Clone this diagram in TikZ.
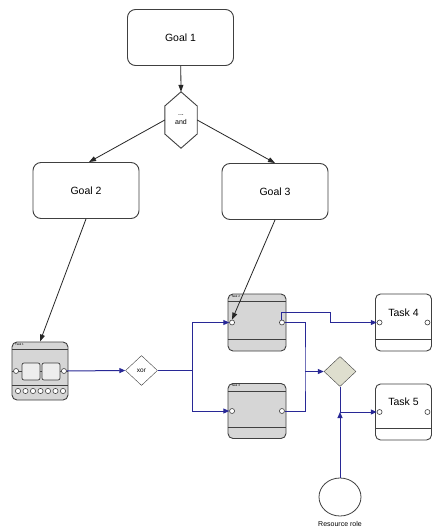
\documentclass[tikz,border=0pt]{standalone}
\usepackage{fontspec}
\setmainfont{Liberation Sans}
\usetikzlibrary{arrows.meta, shapes.geometric, calc, positioning}
\definecolor{FlowBlue}{RGB}{40,40,150}
\colorlet{TaskFill}{black!16}
\colorlet{BoxLine}{black!75}
\definecolor{JoinFill}{RGB}{222,222,206}

\tikzset{
  goal/.style={draw=BoxLine, line width=0.9pt, rounded corners=8pt,
    minimum width=106pt, minimum height=56pt, font=\fontsize{10.5}{12}\selectfont},
  taskbox/.style={draw=BoxLine, line width=0.9pt, rounded corners=5pt,
    minimum width=56pt, minimum height=57pt, inner sep=0pt},
  port/.style={draw=BoxLine, fill=white, circle, inner sep=0pt, minimum size=5pt, line width=0.6pt},
  gate/.style={draw=BoxLine, diamond, aspect=1, inner sep=0pt,
    minimum width=32pt, minimum height=30pt, font=\fontsize{6.5}{7}\selectfont},
  refine/.style={draw=black!85, line width=0.8pt, -{Triangle[length=7pt,width=5pt]}},
  flowline/.style={draw=FlowBlue, line width=1pt},
  flow/.style={flowline, -{Triangle[length=6pt,width=5pt]}},
}

\begin{document}
\begin{tikzpicture}[x=1pt, y=-1pt]

    \useasboundingbox[fill=white] (0,0) rectangle (432,528);

    \def\portInset{4.5}
    \def\baseLine{12}

    % Metas

    \node[goal] (goal1) at (180.5,37.5) {Goal 1};
    \node[goal] (goal2) at (86,190.5) {Goal 2};
    \node[goal] (goal3) at (275,191.5) {Goal 3};

    \node[minimum width=32pt, minimum height=56pt, inner sep=0pt, align=center,
      font=\fontsize{7}{9}\selectfont] (and) at (181,120) {...\\and};
    \draw[BoxLine, line width=0.9pt]
    (and.north) --
    ($(and.east)+(0,-14)$) --
    ($(and.east)+(0,14)$) --
    (and.south) --
    ($(and.west)+(0,14)$) --
    ($(and.west)+(0,-14)$) --
    cycle;

    \draw[refine] (goal1) -- (and.north);
    \draw[refine] (and.west) -- ($(goal2.north)+(3,0)$);
    \draw[refine] (and.east) -- (goal3.north);

    % Tareas

    \node[taskbox, fill=TaskFill, minimum height=58pt] (t1) at (40,371) {};
    \node[taskbox, fill=TaskFill, minimum width=58pt] (t2) at (257,322.5) {};
    \node[taskbox, fill=TaskFill, minimum width=58pt, minimum height=55pt] (t3) at (257,411) {};
    \node[taskbox] (t4) at (403.5,322.5) {};
    \node[taskbox, minimum height=56pt] (t5) at (403.5,412) {};

    \foreach \t in {t2,t3,t4,t5} {
      \draw[BoxLine, line width=0.7pt] ($(\t.south west)+(0,-\baseLine)$) -- ($(\t.south east)+(0,-\baseLine)$);
    }
    \foreach \t in {t1,t2,t3} {
      \draw[BoxLine, line width=0.6pt] ($(\t.north west)+(0,8)$) -- ($(\t.north east)+(0,8)$);
    }
    \draw[BoxLine, line width=0.6pt] ($(t1.south west)+(0,-15)$) -- ($(t1.south east)+(0,-15)$);

    \node[font=\fontsize{3}{3}\selectfont, anchor=north west, inner sep=0.5pt] at ($(t1.north west)+(3,1)$) {Task 1};
    \node[font=\fontsize{3}{3}\selectfont, anchor=north west, inner sep=0.5pt] at ($(t2.north west)+(3,1)$) {Task 2};
    \node[font=\fontsize{3}{3}\selectfont, anchor=north west, inner sep=0.5pt] at ($(t3.north west)+(3,1)$) {Task 3};
    \node[font=\fontsize{10.5}{12}\selectfont] at ($(t4.north)+(0,19)$) {Task 4};
    \node[font=\fontsize{10.5}{12}\selectfont] at ($(t5.north)+(0,18)$) {Task 5};

    % subproceso
    \draw[BoxLine, line width=0.6pt] (t1.west) -- (t1.east);
    \draw[BoxLine, line width=0.7pt, rounded corners=2pt, fill=black!7] (22,363) rectangle (40,380);
    \draw[BoxLine, line width=0.7pt, rounded corners=2pt, fill=black!7] (42,363) rectangle (60,380);
    \foreach \i in {0,...,6} {
      \draw[BoxLine, line width=0.6pt, fill=white] (18+\i*7.5,391) circle (2.6pt);
    }

    \foreach \t in {t1,t2,t3,t4,t5} {
      \node[port] (\t-in) at ($(\t.west)+(\portInset,0)$) {};
      \node[port] (\t-out) at ($(\t.east)+(-\portInset,0)$) {};
    }

    \draw[refine] (goal2.south) -- (t1.north);
    \draw[refine] (goal3.south) -- (t2-in.north);

    % Compuertas

    \node[gate] (xor) at (141.5,370.5) {xor};
    \node[gate, fill=JoinFill] (join) at (340,371.5) {};
    \node[draw=BoxLine, line width=0.8pt, ellipse, minimum width=42pt, minimum height=38pt] (role) at (340,497) {};
    \node[font=\fontsize{7}{8}\selectfont, below=1pt of role] (roleText) {Resource role};

    \coordinate (fork) at (192,370.5);
    \coordinate (merge) at (305,371.5);
    \coordinate (detour) at (330,312);
    \coordinate (split5) at (join.south |- t5-in);

    \draw[flow] (t1-out) -- (xor.west);
    \draw[flowline] (xor.east) -- (fork);
    \draw[flow] (fork) |- (t2-in.west);
    \draw[flow] (fork) |- (t3-in.west);

    \draw[flow] (t2-out.north) |- (detour) |- (t4-in.west);
    \draw[flowline] (t2-out.east) -| (merge) |- (t3-out.east);
    \draw[flow] (merge) -- (join.west);

    \draw[flowline] (join.south) -- (split5);
    \draw[flow] (split5) -- (t5-in.west);
    \draw[flow] (role.north) -- (split5);

\end{tikzpicture}
\end{document}
